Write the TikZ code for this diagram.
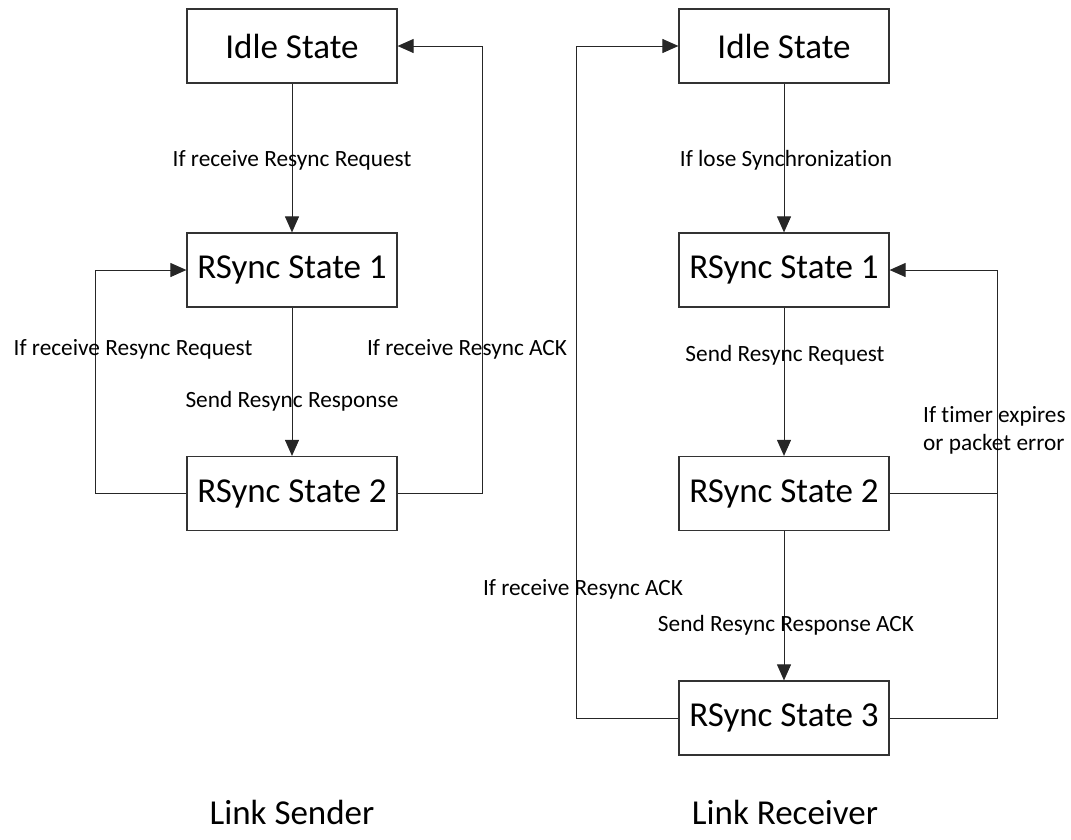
\documentclass[tikz,border=0pt]{standalone}
\usepackage{fontspec}
\setmainfont{Carlito}[Ligatures=NoCommon]
\usetikzlibrary{arrows.meta}
\begin{document}
\begin{tikzpicture}[x=1pt,y=-1pt,
  statebox/.style={draw=black!80,line width=1.2pt,minimum width=210pt,minimum height=74pt,inner sep=0pt,font=\fontsize{35}{42}\selectfont},
  lbl/.style={inner sep=0pt,font=\fontsize{23.3}{28}\selectfont},
  title/.style={inner sep=0pt,font=\fontsize{35}{42}\selectfont},
  conn/.style={draw=black!85,line width=1pt},
  arr/.style={conn,-{Triangle[length=16pt,width=14pt]}}]
\useasboundingbox (0,0) rectangle (1071,839);
% Link Sender
\node[statebox] (s1) at (292,46) {Idle State};
\node[statebox] (s2) at (292,270) {RSync State 1};
\node[statebox] (s3) at (292,493.5) {RSync State 2};
\coordinate (cL) at (95,0);
\coordinate (cR) at (482,0);
\draw[arr] (s1) -- (s2);
\draw[arr] (s2) -- (s3);
\draw[arr] (s3.west) -- (s3.west -| cL) -- (s2.west -| cL) -- (s2.west);
\draw[arr] (s3.east) -- (s3.east -| cR) -- (s1.east -| cR) -- (s1.east);
\node[lbl] (l1) at (292,160) {If receive Resync Request};
\node[lbl] (l2) at (133,349) {If receive Resync Request};
\node[lbl] (l3) at (292,401) {Send Resync Response};
\node[lbl] (l4) at (467,349) {If receive Resync ACK};
\node[title] (t1) at (292,812) {Link Sender};
% Link Receiver
\node[statebox] (r1) at (784,46) {Idle State};
\node[statebox] (r2) at (784,270) {RSync State 1};
\node[statebox] (r3) at (784,493.5) {RSync State 2};
\node[statebox] (r4) at (784,718) {RSync State 3};
\coordinate (dL) at (576,0);
\coordinate (dR) at (997,0);
\draw[arr] (r1) -- (r2);
\draw[arr] (r2) -- (r3);
\draw[arr] (r3) -- (r4);
\draw[arr] (r4.west) -- (r4.west -| dL) -- (r1.west -| dL) -- (r1.west);
\draw[arr] (r4.east) -- (r4.east -| dR) -- (r2.east -| dR) -- (r2.east);
\draw[conn] (r3.east) -- (r3.east -| dR);
\node[lbl] (m1) at (786,160) {If lose Synchronization};
\node[lbl] (m2) at (785,355) {Send Resync Request};
\node[lbl,anchor=west,align=left] (m3) at (923,430) {If timer expires\\or packet error};
\node[lbl] (m4) at (583,589) {If receive Resync ACK};
\node[lbl] (m5) at (786,625) {Send Resync Response ACK};
\node[title] (t2) at (785,812) {Link Receiver};
\end{tikzpicture}
\end{document}
